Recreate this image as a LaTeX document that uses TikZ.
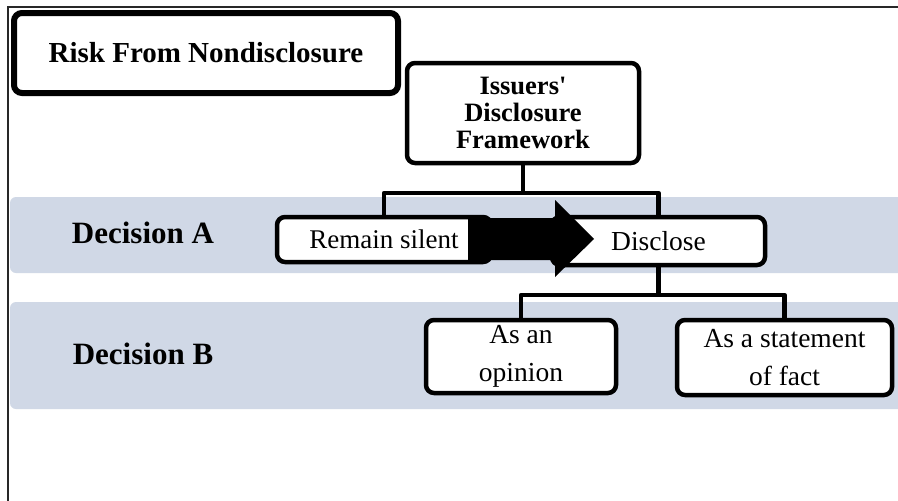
\documentclass[tikz,border=0pt]{standalone}
\usepackage{fontspec}
\setmainfont{Liberation Serif}
\definecolor{band}{RGB}{208,216,230}
\definecolor{framec}{RGB}{40,40,40}
\tikzset{
  box/.style={draw=black, line width=4.5pt, fill=white, rounded corners=8pt, inner sep=0pt, align=center},
  conn/.style={draw=black, line width=4.5pt, line join=round},
  bandfill/.style={fill=band, draw=none, rounded corners=6pt},
  declabel/.style={anchor=base, inner sep=0pt, font=\fontsize{31}{33}\selectfont\bfseries}
}
\begin{document}
\begin{tikzpicture}[x=1pt,y=-1pt]
\useasboundingbox (0,0) rectangle (898,501);
\clip (0,0) rectangle (898,501);
\fill[white] (0,0) rectangle (898,501);
% bands
\path[bandfill] (10,197) rectangle (920,273);
\path[bandfill] (10,302) rectangle (920,409);
% frame
\draw[framec, line width=1.5pt] (8,501) -- (8,7) -- (898,7);
% labels
\node[declabel] (decA) at (143,243) {Decision A};
\node[declabel] (decB) at (143,364) {Decision B};
% boxes
\node[box, line width=6pt, minimum width=384pt, minimum height=80pt,
      font=\fontsize{29}{31}\selectfont\bfseries] (risk) at (206,53) {Risk From Nondisclosure};
\node[box, minimum width=232pt, minimum height=100pt,
      font=\fontsize{26.5}{27}\selectfont\bfseries] (iss) at (523,113) {Issuers\textquotesingle\\Disclosure\\Framework};
\node[box, minimum width=214pt, minimum height=45pt,
      font=\fontsize{27}{29}\selectfont] (rem) at (384,239.5) {Remain silent};
\node[box, minimum width=213pt, minimum height=48pt,
      font=\fontsize{27.5}{29}\selectfont] (dis) at (658.5,241) {Disclose};
\node[box, minimum width=190pt, minimum height=73pt,
      font=\fontsize{27.5}{38}\selectfont] (op) at (521,356.5) {As an\\opinion};
\node[box, minimum width=215pt, minimum height=75pt,
      font=\fontsize{27.5}{38}\selectfont] (fact) at (784.5,357.5) {As a statement\\of fact};
% connectors
\draw[conn] (iss.south) -- (iss.south |- 0,193);
\draw[conn] (rem.north) -- (rem.north |- 0,193) -- (dis.north |- 0,193) -- (dis.north);
\draw[conn] (dis.south) -- (dis.south |- 0,295);
\draw[conn] (op.north) -- (op.north |- 0,295) -- (fact.north |- 0,295) -- (fact.north);
% block arrow from rem to dis
\fill[black] (468,218) -- (555,218) -- (555,200) -- (594,239) -- (555,277) -- (555,260) -- (468,260) -- cycle;
\end{tikzpicture}
\end{document}
